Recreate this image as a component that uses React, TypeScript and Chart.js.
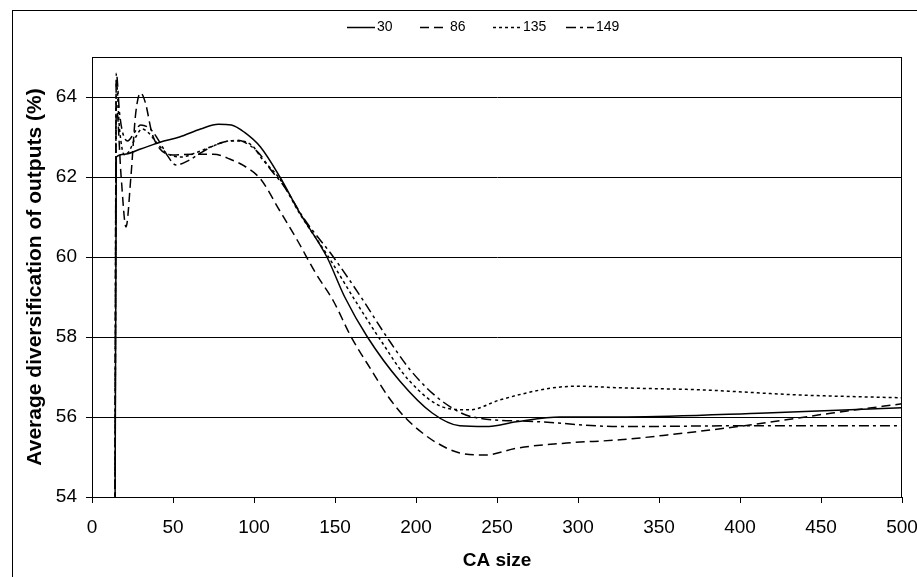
import React, { useEffect, useRef } from "react";
import { Chart, registerables } from "chart.js";

Chart.register(...registerables);

// ---- data ----
const seriesLabels = ["30", "86", "135", "149"];

const series30: [number, number][] = [
  [14, 50], [15, 62.5], [20, 62.57], [30, 62.7], [42, 62.87], [54, 63.0], [67, 63.2], [78, 63.32],
  [86, 63.3], [94, 63.12], [104, 62.75], [116, 62.0], [128, 61.12], [145, 60.0], [156, 59.0],
  [170, 58.0], [190, 56.9], [210, 56.1], [227, 55.78], [243, 55.76], [262, 55.88], [289, 56.0],
  [330, 56.0], [416, 56.1], [500, 56.23],
];

const series86: [number, number][] = [
  [14, 50], [15, 63.8], [18, 62.0], [21, 60.75], [24, 62.0], [27, 63.6], [30, 64.1], [33, 63.85],
  [37, 63.1], [42, 62.7], [50, 62.55], [62, 62.57], [75, 62.57], [85, 62.45], [95, 62.25],
  [104, 61.95], [116, 61.15], [127, 60.4], [138, 59.6], [149, 58.9], [160, 58.0], [172, 57.2],
  [183, 56.5], [193, 56.0], [204, 55.6], [213, 55.35], [227, 55.1], [243, 55.05], [262, 55.22],
  [293, 55.35], [326, 55.43], [355, 55.55], [406, 55.8], [457, 56.1], [500, 56.33],
];

const series135: [number, number][] = [
  [14, 50], [15, 64.4], [17, 63.2], [20, 62.55], [23, 62.65], [27, 63.0], [31, 63.2], [35, 63.1],
  [40, 62.85], [46, 62.6], [55, 62.5], [65, 62.62], [75, 62.78], [85, 62.9], [92, 62.9],
  [99, 62.78], [105, 62.45], [116, 61.95], [128, 61.1], [146, 60.0], [162, 58.94], [178, 57.93],
  [196, 56.9], [219, 56.22], [233, 56.18], [252, 56.43], [283, 56.72], [300, 56.77], [326, 56.73],
  [375, 56.68], [437, 56.55], [500, 56.48],
];

const series149: [number, number][] = [
  [14, 50], [15, 64.6], [17, 63.6], [19, 63.1], [22, 62.9], [26, 63.1], [30, 63.3], [36, 63.2],
  [42, 62.86], [46, 62.57], [52, 62.3], [60, 62.42], [67, 62.6], [75, 62.78], [82, 62.88],
  [90, 62.92], [97, 62.8], [104, 62.55], [110, 62.2], [118, 61.8], [131, 60.95], [149, 60.0],
  [166, 59.0], [182, 58.0], [197, 57.15], [215, 56.43], [235, 56.0], [272, 55.89], [326, 55.76],
  [400, 55.78], [500, 55.78],
];

const yTickValues = [54, 56, 58, 60, 62, 64];
const xAxisTitle = "CA size";
const yAxisTitle = "Average diversification of outputs (%)";

// ---- styles ----
const dashes: number[][] = [[], [9, 5], [3, 3], [10, 4, 3, 4]];
const FONT = '"Liberation Sans", Arial, Helvetica, sans-serif';

const toXY = (s: [number, number][]) => s.map(([x, y]) => ({ x, y }));

const framePlugin = {
  id: "frameAndLegend",
  beforeDraw(chart: any) {
    const ctx = chart.ctx;
    ctx.save();
    ctx.fillStyle = "#fff";
    ctx.fillRect(0, 0, chart.width, chart.height);
    ctx.strokeStyle = "#000";
    ctx.lineWidth = 1;
    ctx.strokeRect(12.5, 10.5, 2000, 2000);
    ctx.restore();
  },
  afterDraw(chart: any) {
    const ctx = chart.ctx;
    const a = chart.chartArea;
    ctx.save();
    ctx.strokeStyle = "#000";
    ctx.lineWidth = 1;
    ctx.setLineDash([]);
    const l = Math.round(a.left) + 0.5;
    const t = Math.round(a.top) + 0.5;
    const r = Math.round(a.right) - 0.5;
    const b = Math.round(a.bottom) + 0.5;
    ctx.strokeRect(l, t, r - l, b - t);
    // legend
    ctx.font = `14px ${FONT}`;
    ctx.textBaseline = "middle";
    ctx.fillStyle = "#000";
    const y = 27.5;
    chart.data.datasets.forEach((ds: any, i: number) => {
      const x0 = 347 + 73 * i;
      ctx.lineWidth = 1.5;
      ctx.setLineDash(ds.borderDash || []);
      ctx.beginPath();
      ctx.moveTo(x0, y);
      ctx.lineTo(x0 + 28, y);
      ctx.stroke();
      ctx.setLineDash([]);
      ctx.fillText(ds.label, x0 + 30, y);
    });
    ctx.restore();
  },
};

export default function App() {
  const ref = useRef<HTMLCanvasElement | null>(null);
  useEffect(() => {
    document.body.style.margin = "0";
    const canvas = ref.current!;
    const all = [series30, series86, series135, series149];
    const chart = new Chart(canvas, {
      type: "line",
      data: {
        datasets: all.map((s, i) => ({
          label: seriesLabels[i],
          data: toXY(s),
          borderColor: "#000",
          borderWidth: 1.5,
          borderDash: dashes[i],
          pointRadius: 0,
          fill: false,
          cubicInterpolationMode: "monotone" as const,
        })),
      },
      options: {
        animation: false,
        responsive: false,
        layout: { padding: { left: 0, right: 15, top: 57, bottom: 0 } },
        plugins: { legend: { display: false }, tooltip: { enabled: false } },
        scales: {
          x: {
            type: "linear",
            min: 0,
            max: 500,
            ticks: { stepSize: 50, color: "#000", font: { family: FONT, size: 19 }, padding: 13, maxRotation: 0 },
            grid: { drawOnChartArea: false, drawTicks: true, tickLength: 6, color: "#000" },
            border: { display: true, color: "#000" },
            title: { display: true, text: xAxisTitle, color: "#000", font: { family: FONT, size: 19, weight: "bold" }, padding: { top: 0, bottom: 5 } },
            afterFit: (s: any) => { s.height = 80; s.paddingLeft = 0; s.paddingRight = 0; },
          },
          y: {
            type: "linear",
            min: 54,
            max: 65,
            afterBuildTicks: (s: any) => { s.ticks = yTickValues.map((v) => ({ value: v })); },
            ticks: { color: "#000", font: { family: FONT, size: 19 }, padding: 9 },
            grid: { color: "#000", tickLength: 6 },
            border: { display: true, color: "#000" },
            title: { display: true, text: yAxisTitle, color: "#000", font: { family: FONT, size: 21, weight: "bold" }, padding: { top: 23, bottom: 0 } },
            afterFit: (s: any) => { s.width = 92; s.paddingTop = 0; s.paddingBottom = 0; },
          },
        },
      },
      plugins: [framePlugin],
    } as any);
    return () => chart.destroy();
  }, []);
  return (
    <div style={{ position: "absolute", left: 0, top: 0, width: 917, height: 577 }}>
      <canvas ref={ref} width={917} height={577} style={{ display: "block" }} />
    </div>
  );
}
